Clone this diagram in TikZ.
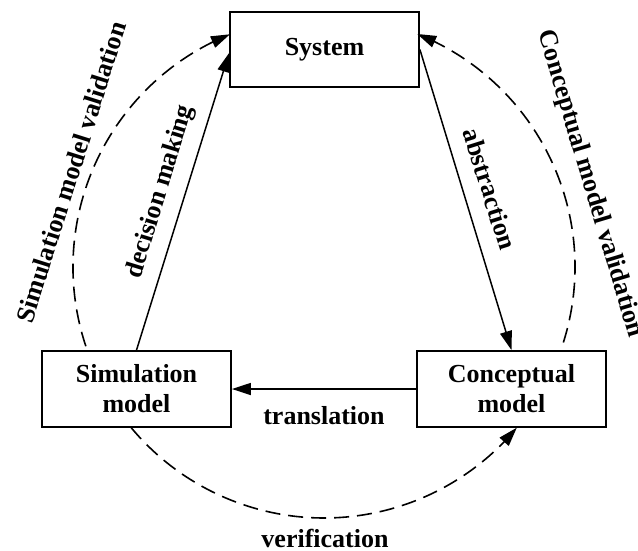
\documentclass[tikz,border=0pt]{standalone}
\usepackage{fontspec}
\setmainfont{Liberation Serif}
\usetikzlibrary{arrows.meta,bending,calc}

\tikzset{
  box/.style={draw, line width=1.8pt, minimum width=189pt, minimum height=76pt,
              inner sep=0pt, align=center, font=\fontsize{26}{30}\selectfont\bfseries},
  lbl/.style={inner sep=0pt, font=\fontsize{26}{30}\selectfont\bfseries},
  flow/.style={line width=1.5pt, -{Triangle[length=19pt,width=12pt]}},
  check/.style={line width=1.6pt, dash pattern=on 15pt off 8pt,
                -{Triangle[length=19pt,width=12pt,flex]}}
}

\begin{document}
\begin{tikzpicture}[x=1pt,y=1pt]
  \useasboundingbox (0,0) rectangle (638,-550);

  % the three stages
  \node[box, minimum height=75pt] (sys) at (324.5,-49.5) {System};
  \node[box] (sim) at (136.5,-389) {Simulation\\model};
  \node[box] (con) at (511.5,-389) {Conceptual\\model};

  % modelling cycle
  \draw[flow] (sys.east) -- (con.north);
  \draw[flow] (con.west) -- (sim.east);
  \draw[flow] (sim.north) -- ([yshift=-3.5pt]sys.west);

  % checks along the surrounding circle
  \coordinate (ctr) at (324,-267);
  \coordinate (smvA) at ($(ctr)+(198.4:251)$);
  \coordinate (cmvA) at ($(ctr)+(-17.5:251)$);
  \coordinate (verA) at ($(ctr)+(219.8:251)$);
  \draw[check] (smvA) arc[start angle=198.4, end angle=112, radius=251];
  \draw[check] (cmvA) arc[start angle=-17.5, end angle=68.2, radius=251];
  \draw[check] (verA) arc[start angle=219.8, end angle=320.2, radius=251];

  % labels
  \node[lbl, rotate=-72.5] (labs) at (490,-189) {abstraction};
  \node[lbl] (ltra) at (324,-415.5) {translation};
  \node[lbl, rotate=73] (ldec) at (160.5,-192) {decision making};
  \node[lbl] (lver) at (325,-538) {verification};
  \node[lbl, rotate=72.5] (lsmv) at (71,-172) {Simulation model validation};
  \node[lbl, rotate=-73.3] (lcmv) at (590,-184) {Conceptual model validation};
\end{tikzpicture}
\end{document}
